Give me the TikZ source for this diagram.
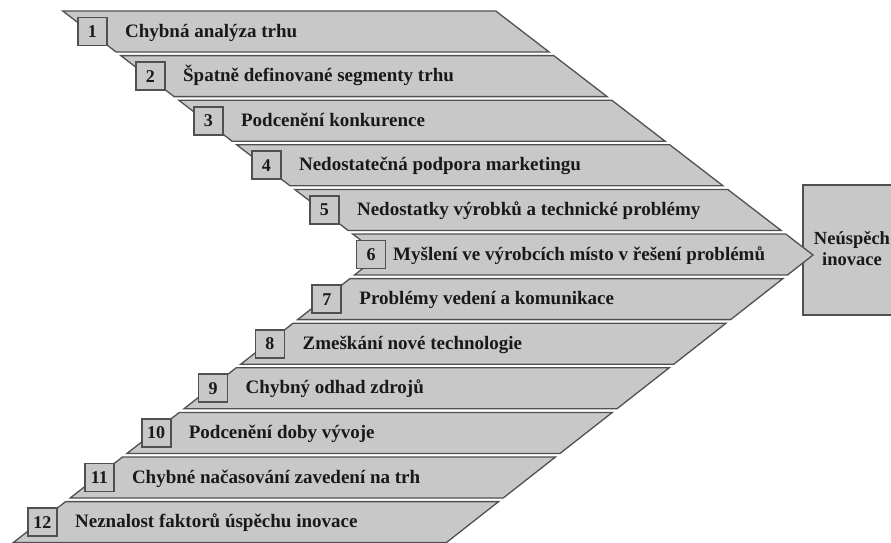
\documentclass[tikz,border=0pt]{standalone}
\usepackage{fontspec}
\setmainfont{Liberation Serif}
\definecolor{bandfill}{RGB}{200,200,200}
\definecolor{edgegray}{RGB}{80,80,80}
\definecolor{ink}{RGB}{25,25,25}
\begin{document}
\begin{tikzpicture}[x=1pt,y=-1pt,
  band/.style={fill=bandfill,draw=edgegray,line width=1.3pt,line join=miter},
  numbox/.style={fill=bandfill,draw=edgegray,line width=1.8pt,minimum width=29pt,
    minimum height=28pt,inner sep=0pt,font=\fontsize{18}{18}\selectfont\bfseries,text=ink},
  cause/.style={anchor=base west,inner sep=0pt,font=\fontsize{19}{19}\selectfont\bfseries,text=ink},
  outcome/.style={fill=bandfill,draw=edgegray,line width=1.5pt,minimum width=105pt,
    minimum height=130pt,inner sep=0pt},
  outcometext/.style={inner sep=0pt,align=center,
    font=\fontsize{18.5}{21}\selectfont\bfseries,text=ink}]
\useasboundingbox (0,0) rectangle (891,542);
\clip (0,0) rectangle (891,542);

% the result the whole chevron points at
\node[outcome] (out) at (855.5,250) {};
\node[outcometext] (outlabel) at (852,248.5) {Neúspěch\\inovace};

% twelve stripes cut from one chevron; left tip at (380,255), right tip at (813,255)
\foreach \k/\txt in {
  1/Chybná analýza trhu,
  2/Špatně definované segmenty trhu,
  3/Podcenění konkurence,
  4/Nedostatečná podpora marketingu,
  5/Nedostatky výrobků a technické problémy,
  6/Myšlení ve výrobcích místo v řešení problémů,
  7/Problémy vedení a komunikace,
  8/Zmeškání nové technologie,
  9/Chybný odhad zdrojů,
  10/Podcenění doby vývoje,
  11/Chybné načasování zavedení na trh,
  12/Neznalost faktorů úspěchu inovace} {
  \pgfmathsetmacro\t{11+44.6*(\k-1)}
  \pgfmathsetmacro\b{\t+41}
  \pgfmathsetmacro\m{\t+20.5}
  \ifnum\k<6
    \pgfmathsetmacro\lt{380-1.3*(255-\t)}
    \pgfmathsetmacro\lb{380-1.3*(255-\b)}
    \pgfmathsetmacro\lm{380-1.3*(255-\m)}
    \draw[band] (\lt,\t) -- (\lt+433,\t) -- (\lb+433,\b) -- (\lb,\b) -- cycle;
    \node[numbox] (box\k) at (\lm+3,\m) {\k};
    \node[cause] (lab\k) at (\lm+35.5,\m+5.5) {\txt};
  \else\ifnum\k>6
    \pgfmathsetmacro\lt{380-1.275*(\t-255)}
    \pgfmathsetmacro\lb{380-1.275*(\b-255)}
    \pgfmathsetmacro\lm{380-1.275*(\m-255)}
    \draw[band] (\lt,\t) -- (\lt+433,\t) -- (\lb+433,\b) -- (\lb,\b) -- cycle;
    \node[numbox] (box\k) at (\lm+3,\m) {\k};
    \node[cause] (lab\k) at (\lm+35.5,\m+5.5) {\txt};
  \else
    \pgfmathsetmacro\lt{380-1.3*(255-\t)}
    \pgfmathsetmacro\lb{380-1.275*(\b-255)}
    \draw[band] (\lt,\t) -- (\lt+433,\t) -- (813,255) -- (\lb+433,\b) -- (\lb,\b)
      -- (380,255) -- cycle;
    \node[numbox] (box\k) at (371,\m) {\k};
    \node[cause] (lab\k) at (393,\m+5.5) {\txt};
  \fi\fi
}
\end{tikzpicture}
\end{document}
